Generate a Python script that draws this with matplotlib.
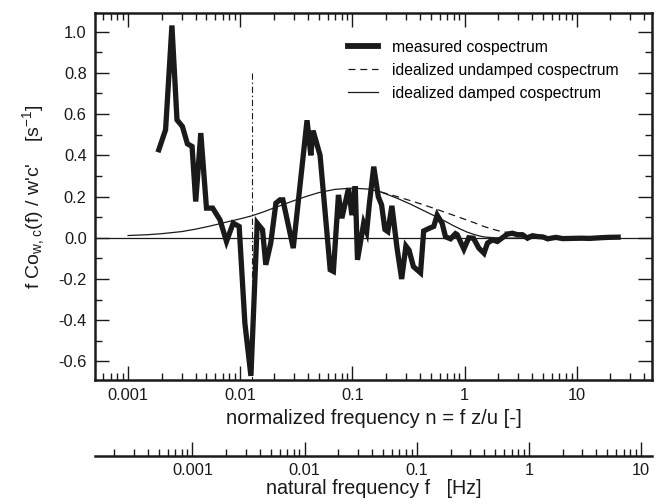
import numpy as np
import matplotlib
matplotlib.use("Agg")
import matplotlib.pyplot as plt
from matplotlib.ticker import LogLocator, NullFormatter, MultipleLocator

plt.rcParams["font.family"] = ["Liberation Sans", "DejaVu Sans"]
plt.rcParams["mathtext.default"] = "regular"
plt.rcParams["lines.scale_dashes"] = False

# measured cospectrum (normalized frequency n, f Co / w'c')
n_meas = [0.00188, 0.00216, 0.00246, 0.00273, 0.00305, 0.00338, 0.00372, 0.00401, 0.00445,
          0.0050, 0.00568, 0.0066, 0.00754, 0.00865, 0.00978, 0.0110, 0.01245, 0.01417,
          0.0158, 0.0169, 0.0187, 0.0208, 0.0226, 0.0240, 0.0297, 0.0394, 0.0426, 0.0446,
          0.0515, 0.0634, 0.0677, 0.0751, 0.0805, 0.0924, 0.099, 0.106, 0.111, 0.126,
          0.134, 0.142, 0.155, 0.170, 0.182, 0.195, 0.207, 0.225, 0.250, 0.275, 0.300,
          0.320, 0.350, 0.405, 0.432, 0.480, 0.531, 0.570, 0.631, 0.676, 0.750, 0.830,
          0.860, 0.986, 1.09, 1.20, 1.34, 1.49, 1.60, 1.77, 1.96, 2.17, 2.41, 2.67, 2.96,
          3.28, 3.64, 4.03, 4.47, 5.0, 5.5, 6.5, 7.5, 9.0, 11.0, 13.0, 16.0, 19.0, 23.4]
co_meas = [0.427, 0.524, 1.03, 0.572, 0.54, 0.456, 0.443, 0.176, 0.508,
           0.144, 0.144, 0.087, -0.018, 0.071, 0.055, -0.414, -0.67, 0.071,
           0.039, -0.131, -0.026, 0.168, 0.184, 0.184, -0.05, 0.57, 0.40, 0.52,
           0.40, -0.155, -0.163, 0.208, 0.095, 0.24, 0.11, 0.25, -0.107, 0.07,
           0.03, 0.17, 0.345, 0.20, 0.16, 0.04, 0.03, 0.155, -0.05, -0.20, -0.04,
           -0.06, -0.14, -0.17, 0.033, 0.045, 0.055, 0.11, 0.07, 0.005, -0.005, 0.02,
           0.015, -0.055, 0.0, -0.002, -0.05, -0.075, -0.026, -0.01, -0.018, 0.0, 0.018, 0.022, 0.015,
           0.015, -0.002, 0.01, 0.006, 0.004, -0.005, 0.002, -0.004, -0.003, -0.002, -0.003, 0.0, 0.002, 0.003]

# idealized damped cospectrum
n_damped = [0.001, 0.0015, 0.002, 0.003, 0.004, 0.005, 0.006, 0.0075, 0.01, 0.0126, 0.016,
            0.02, 0.025, 0.03, 0.04, 0.05, 0.07, 0.1, 0.14, 0.18, 0.25, 0.33, 0.42, 0.5,
            0.6, 0.7, 0.8, 0.92, 1.05, 1.2, 1.35, 1.5, 1.85, 2.5, 4.0, 10.0, 23.4]
co_damped = [0.011, 0.015, 0.02, 0.03, 0.042, 0.053, 0.063, 0.076, 0.092, 0.106, 0.125,
             0.145, 0.164, 0.18, 0.203, 0.219, 0.235, 0.241, 0.236, 0.222, 0.192, 0.163, 0.135, 0.115,
             0.094, 0.075, 0.058, 0.042, 0.028, 0.017, 0.009, 0.004, 0.0, -0.002, 0.0, 0.0, 0.0]

# idealized undamped cospectrum (departs from the damped one above n ~ 0.18)
n_undamped = [0.18, 0.25, 0.33, 0.42, 0.5, 0.6, 0.7, 0.85, 1.0, 1.25, 1.5, 1.8, 2.1,
              2.5, 3.0, 4.2, 6.0, 10.0, 23.4]
co_undamped = [0.222, 0.2, 0.18, 0.162, 0.148, 0.133, 0.12, 0.104, 0.09, 0.071, 0.054, 0.041, 0.031,
               0.024, 0.018, 0.01, 0.006, 0.003, 0.001]

n_cut = 0.01265          # dash-dot marker
z_over_u = 3.75          # n = f z/u

fig = plt.figure(figsize=(6.61, 5.04), dpi=100)
ax = fig.add_axes([0.1437, 0.246, 0.8427, 0.728])

ax.plot(n_damped, co_damped, color="#1a1a1a", lw=0.9)
ax.plot(n_undamped, co_undamped, color="#1a1a1a", lw=0.9, dashes=(5, 3.5))
ax.axhline(0.0, color="#1a1a1a", lw=0.9)
ax.plot([n_cut, n_cut], [0.8, -0.69], color="#1a1a1a", lw=0.8, dashes=(4.5, 2, 1, 2))
ax.plot(n_meas, co_meas, color="#1a1a1a", lw=3.8, solid_joinstyle="miter")

# legend drawn with proxy lines
h1, = ax.plot([], [], color="#1a1a1a", lw=4.2)
h2, = ax.plot([], [], color="#1a1a1a", lw=0.9, dashes=(5, 3.5))
h3, = ax.plot([], [], color="#1a1a1a", lw=0.9)
ax.legend([h1, h2, h3], ["measured cospectrum", "idealized undamped cospectrum",
                         "idealized damped cospectrum"],
          loc="upper left", bbox_to_anchor=(0.455, 0.927), frameon=False, fontsize=11.3,
          handlelength=1.9, handletextpad=0.9, labelspacing=0.5, borderpad=0,
          borderaxespad=0)

ax.set_xscale("log")
xlim = (0.000507, 46.9)
ax.set_xlim(*xlim)
ax.set_ylim(-0.69, 1.09)
ax.yaxis.set_major_locator(MultipleLocator(0.2))
ax.yaxis.set_minor_locator(MultipleLocator(0.1))
ax.yaxis.set_major_formatter(plt.FuncFormatter(lambda v, p: f"{v:.1f}"))
ax.xaxis.set_major_locator(LogLocator(base=10, numticks=20))
ax.xaxis.set_minor_locator(LogLocator(base=10, subs=np.arange(2, 10), numticks=20))
ax.xaxis.set_minor_formatter(NullFormatter())
ax.xaxis.set_major_formatter(plt.FuncFormatter(lambda v, p: f"{v:g}"))
ax.tick_params(which="both", direction="in", top=True, right=True, width=1.0,
               labelsize=11.8, color="#1a1a1a", labelcolor="#1a1a1a")
ax.tick_params(which="major", length=10, pad=6)
ax.tick_params(which="minor", length=5)
for s in ax.spines.values():
    s.set_linewidth(1.8)
    s.set_color("#1a1a1a")
ax.set_xlabel("normalized frequency n = f z/u [-]", fontsize=14.6, labelpad=4, color="#1a1a1a")
ax.set_ylabel("f Co$_{w,c}$(f) / w'c'    [s$^{-1}$]", fontsize=14, labelpad=8, color="#1a1a1a")

# secondary axis: natural frequency f = n u / z
ax2 = fig.add_axes([0.1437, 0.095, 0.8427, 0.0001])
ax2.set_xscale("log")
ax2.set_xlim(xlim[0] / z_over_u, xlim[1] / z_over_u)
ax2.set_yticks([])
for side in ("top", "left", "right"):
    ax2.spines[side].set_visible(False)
ax2.spines["bottom"].set_linewidth(1.8)
ax2.spines["bottom"].set_color("#1a1a1a")
ax2.patch.set_visible(False)
ax2.xaxis.set_major_locator(LogLocator(base=10, numticks=20))
ax2.xaxis.set_minor_locator(LogLocator(base=10, subs=np.arange(2, 10), numticks=20))
ax2.xaxis.set_minor_formatter(NullFormatter())
ax2.xaxis.set_major_formatter(plt.FuncFormatter(lambda v, p: f"{v:g}"))
ax2.tick_params(which="both", direction="in", width=1.0, labelsize=11.8,
                color="#1a1a1a", labelcolor="#1a1a1a")
ax2.tick_params(which="major", length=10, pad=5)
ax2.tick_params(which="minor", length=5)
ax2.set_xlabel("natural frequency f   [Hz]", fontsize=14.2, labelpad=0.5, color="#1a1a1a")

fig.savefig("out.png", dpi=100)
